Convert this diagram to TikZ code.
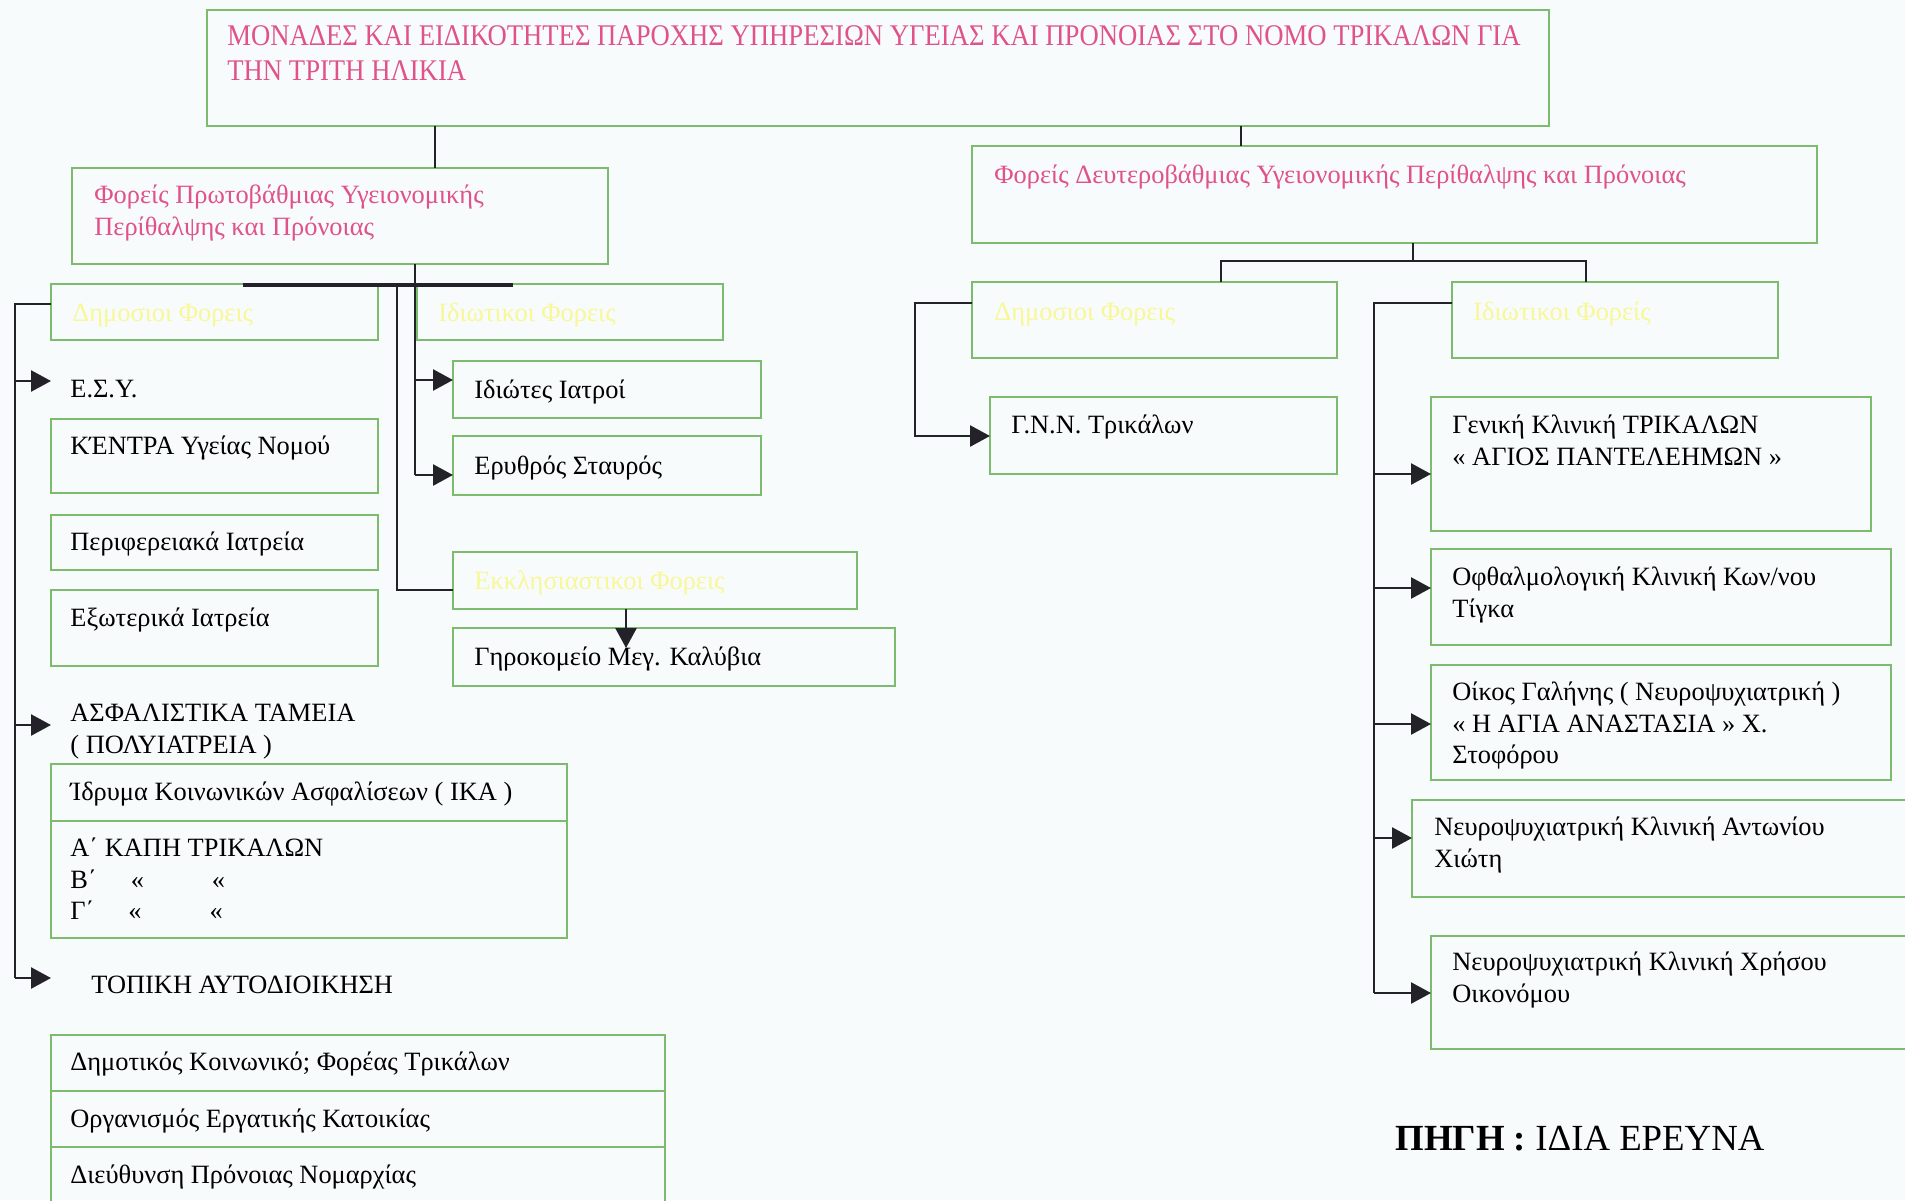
\documentclass[tikz,border=0pt]{standalone}
\usepackage{fontspec}
\setmainfont{Liberation Serif}
\newfontfamily\titlefam[FakeStretch=0.89]{Liberation Serif}
\usetikzlibrary{arrows.meta}
\definecolor{bgc}{RGB}{247,251,251}
\definecolor{boxg}{RGB}{125,188,110}
\definecolor{pinkc}{RGB}{224,82,136}
\definecolor{yelc}{RGB}{249,247,150}
\definecolor{linec}{RGB}{34,34,40}
\newcommand\bodyf{\fontsize{13.2}{15.8}\selectfont}
\newcommand\titlef{\titlefam\fontsize{15}{17.6}\selectfont}
\newcommand\Bx[5]{\node[bx, minimum width={(#4-#2)*0.5pt}, minimum height={(#5-#3)*0.5pt}] (#1) at (#2,#3) {};}
\begin{document}
\begin{tikzpicture}[x=0.5pt,y=-0.5pt,
  bx/.style={draw=boxg, line width=0.7pt, anchor=north west, inner sep=0pt, outer sep=0pt},
  txt/.style={anchor=north west, inner sep=0pt, align=left, font=\bodyf, text=black},
  ptxt/.style={txt, text=pinkc},
  ytxt/.style={txt, text=yelc},
  ln/.style={draw=linec, line width=1.3pt},
  arr/.style={ln, -{Triangle[length=10pt,width=10.5pt]}}]
\clip (0,0) rectangle (1905,1200);
\fill[bgc] (0,0) rectangle (1905,1200);
% boxes
\Bx{top}{207}{10}{1549}{126}
\Bx{prim}{72}{168}{608}{264}
\Bx{sec}{972}{146}{1817}{243}
\Bx{pubL}{51}{284}{378}{340}
\Bx{privL}{417}{284}{723}{340}
\Bx{kentra}{51}{419}{378}{493}
\Bx{perif}{51}{515}{378}{570}
\Bx{exot}{51}{590}{378}{666}
\Bx{ikaA}{51}{764}{567}{821}
\Bx{ikaB}{51}{821}{567}{938}
\Bx{locA}{51}{1035}{665}{1091}
\Bx{locB}{51}{1091}{665}{1147}
\Bx{locC}{51}{1147}{665}{1215}
\Bx{iatr}{453}{361}{761}{418}
\Bx{eryth}{453}{436}{761}{495}
\Bx{ekkl}{453}{552}{857}{609}
\Bx{giro}{453}{628}{895}{686}
\Bx{pubR}{972}{282}{1337}{358}
\Bx{privR}{1452}{282}{1778}{358}
\Bx{gnn}{990}{397}{1337}{474}
\Bx{genik}{1431}{397}{1871}{531}
\Bx{ofth}{1431}{549}{1891}{645}
\Bx{oikos}{1431}{665}{1891}{780}
\Bx{neuA}{1412}{800}{1915}{897}
\Bx{neuX}{1431}{936}{1915}{1049}
% texts
\node[ptxt, font=\titlef] (tTitle) at (227,20) {\strut ΜΟΝΑΔΕΣ ΚΑΙ ΕΙΔΙΚΟΤΗΤΕΣ ΠΑΡΟΧΗΣ ΥΠΗΡΕΣΙΩΝ ΥΓΕΙΑΣ ΚΑΙ ΠΡΟΝΟΙΑΣ ΣΤΟ ΝΟΜΟ ΤΡΙΚΑΛΩΝ ΓΙΑ\\\strut ΤΗΝ ΤΡΙΤΗ ΗΛΙΚΙΑ};
\node[ptxt] (tPrim) at (94,181) {\strut Φορείς Πρωτοβάθμιας Υγειονομικής\\\strut Περίθαλψης και Πρόνοιας};
\node[ptxt] (tSec) at (994,161) {\strut Φορείς Δευτεροβάθμιας Υγειονομικής Περίθαλψης και Πρόνοιας};
\node[ytxt] (tPubL) at (72,299) {\strut Δημοσιοι Φορεις};
\node[ytxt] (tPrivL) at (438,299) {\strut Ιδιωτικοι Φορεις};
\node[txt] (tESY) at (70,375) {\strut Ε.Σ.Υ.};
\node[txt] (tKentra) at (70,432) {\strut ΚΈΝΤΡΑ Υγείας Νομού};
\node[txt] (tPerif) at (70,528) {\strut Περιφερειακά Ιατρεία};
\node[txt] (tExot) at (70,604) {\strut Εξωτερικά Ιατρεία};
\node[txt] (tAsf) at (70,699) {\strut ΑΣΦΑΛΙΣΤΙΚΑ ΤΑΜΕΙΑ\\\strut ( ΠΟΛΥΙΑΤΡΕΙΑ )};
\node[txt] (tIka) at (70,778) {\strut Ίδρυμα Κοινωνικών Ασφαλίσεων ( ΙΚΑ )};
\node[txt] (tKapi) at (70,834) {\strut Α΄ ΚΑΠΗ ΤΡΙΚΑΛΩΝ\\\strut Β΄\hspace{17pt}«\hspace{34pt}«\\\strut Γ΄\hspace{17pt}«\hspace{34pt}«};
\node[txt] (tTop) at (91,971) {\strut ΤΟΠΙΚΗ ΑΥΤΟΔΙΟΙΚΗΣΗ};
\node[txt] (tLocA) at (70,1048) {\strut Δημοτικός Κοινωνικό; Φορέας Τρικάλων};
\node[txt] (tLocB) at (70,1105) {\strut Οργανισμός Εργατικής Κατοικίας};
\node[txt] (tLocC) at (70,1161) {\strut Διεύθυνση Πρόνοιας Νομαρχίας};
\node[txt] (tIatr) at (474,376) {\strut Ιδιώτες Ιατροί};
\node[txt] (tEryth) at (474,452) {\strut Ερυθρός Σταυρός};
\node[ytxt] (tEkkl) at (474,567) {\strut Εκκλησιαστικοι Φορεις};
\node[txt] (tGiro) at (474,643) {\strut Γηροκομείο Μεγ. Καλύβια};
\node[ytxt] (tPubR) at (994,298) {\strut Δημοσιοι Φορεις};
\node[ytxt] (tPrivR) at (1473,298) {\strut Ιδιωτικοι Φορείς};
\node[txt] (tGnn) at (1011,411) {\strut Γ.Ν.Ν. Τρικάλων};
\node[txt] (tGenik) at (1452,411) {\strut Γενική Κλινική ΤΡΙΚΑΛΩΝ\\\strut « ΑΓΙΟΣ ΠΑΝΤΕΛΕΗΜΩΝ »};
\node[txt] (tOfth) at (1452,563) {\strut Οφθαλμολογική Κλινική Κων/νου\\\strut Τίγκα};
\node[txt] (tOikos) at (1452,678) {\strut Οίκος Γαλήνης ( Νευροψυχιατρική )\\\strut « Η ΑΓΙΑ ΑΝΑΣΤΑΣΙΑ » Χ.\\\strut Στοφόρου};
\node[txt] (tNeuA) at (1434,813) {\strut Νευροψυχιατρική Κλινική Αντωνίου\\\strut Χιώτη};
\node[txt] (tNeuX) at (1452,948) {\strut Νευροψυχιατρική Κλινική Χρήσου\\\strut Οικονόμου};
\node[txt, font=\fontsize{18.4}{21}\selectfont] (tSrc) at (1395,1121) {\strut\textbf{ΠΗΓΗ :} ΙΔΙΑ ΕΡΕΥΝΑ};
% junction coordinates
\coordinate (jP) at (435,168);
\coordinate (jS) at (1241,146);
\coordinate (jBarA) at (243,285);
\coordinate (jBarB) at (513,285);
\coordinate (jV1top) at (415,264);
\coordinate (jV1a) at (415,380);
\coordinate (jV1b) at (415,475);
\coordinate (jV2top) at (397,285);
\coordinate (jV2b) at (397,590);
\coordinate (jL0) at (15,304);
\coordinate (jL1) at (15,381);
\coordinate (jL2) at (15,725);
\coordinate (jL3) at (15,978);
\coordinate (jEsy) at (51,381);
\coordinate (jAsf) at (51,725);
\coordinate (jTop) at (51,978);
\coordinate (jG) at (626,648);
\coordinate (jR0) at (1413,261);
\coordinate (jRa) at (1221,261);
\coordinate (jRb) at (1586,261);
\coordinate (jQ0) at (915,303);
\coordinate (jQ1) at (915,436);
\coordinate (jW0) at (1374,303);
\coordinate (jW1) at (1374,474);
\coordinate (jW2) at (1374,588);
\coordinate (jW3) at (1374,724);
\coordinate (jW4) at (1374,838);
\coordinate (jW5) at (1374,993);
% connectors
\draw[ln] (top.south -| jP) -- (prim.north -| jP);
\draw[ln] (top.south -| jS) -- (sec.north -| jS);
\draw[ln, line width=1.9pt] (jBarA) -- (jBarB);
\draw[ln] (prim.south -| jV1top) -- (jV1b);
\draw[arr] (jV1a) -- (iatr.west |- jV1a);
\draw[arr] (jV1b) -- (eryth.west |- jV1b);
\draw[ln] (jV2top) -- (jV2b) -- (ekkl.west |- jV2b);
\draw[ln] (pubL.west |- jL0) -- (jL0) -- (jL3);
\draw[arr] (jL1) -- (jEsy);
\draw[arr] (jL2) -- (jAsf);
\draw[arr] (jL3) -- (jTop);
\draw[arr] (ekkl.south -| jG) -- (jG);
\draw[ln] (sec.south -| jR0) -- (jR0);
\draw[ln] (pubR.north -| jRa) -- (jRa) -- (jRb) -- (privR.north -| jRb);
\draw[arr] (pubR.west |- jQ0) -- (jQ0) -- (jQ1) -- (gnn.west |- jQ1);
\draw[ln] (privR.west |- jW0) -- (jW0) -- (jW5);
\draw[arr] (jW1) -- (genik.west |- jW1);
\draw[arr] (jW2) -- (ofth.west |- jW2);
\draw[arr] (jW3) -- (oikos.west |- jW3);
\draw[arr] (jW4) -- (neuA.west |- jW4);
\draw[arr] (jW5) -- (neuX.west |- jW5);
\end{tikzpicture}
\end{document}
